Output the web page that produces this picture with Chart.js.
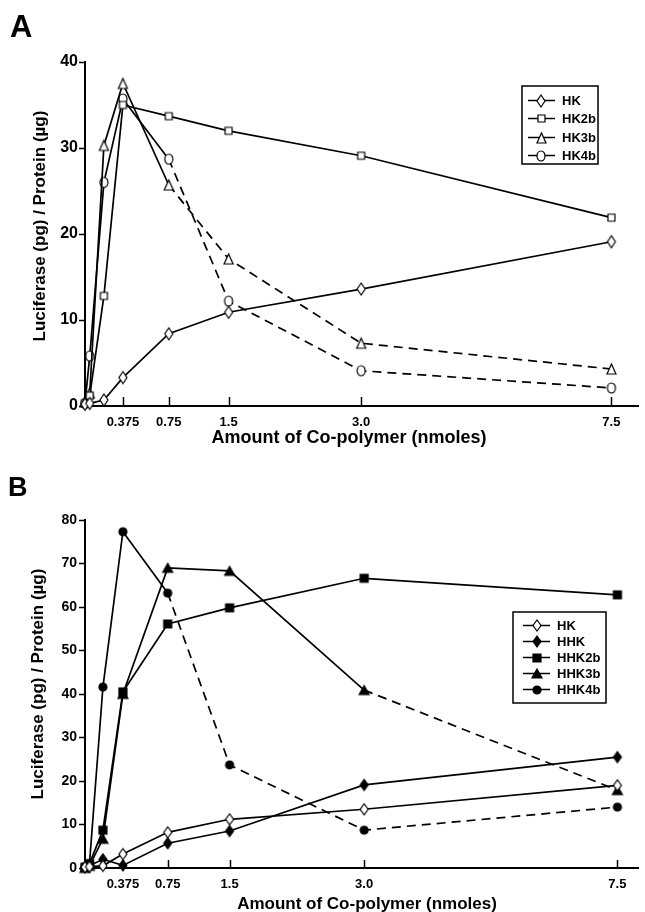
<!DOCTYPE html>
<html><head><meta charset="utf-8">
<script src="https://cdn.jsdelivr.net/npm/chart.js@4/dist/chart.umd.min.js"></script>
<style>
html,body{margin:0;padding:0;background:#fff;}
#wrap{position:relative;width:645px;height:912px;overflow:hidden;font-family:'Liberation Sans',Arial,Helvetica,sans-serif;font-weight:bold;color:#000;}
.panel{position:absolute;left:0;width:645px;height:456px;}
#pA{top:0}
#pB{top:456px}
.t{position:absolute;white-space:nowrap;line-height:1;}
.c{transform:translate(-50%,-50%);}
.r{transform:translate(-50%,-50%) rotate(-90deg);}
</style></head>
<body><div id="wrap">
<div class="panel" id="pA"><canvas id="chartA" width="645" height="456"></canvas></div>
<div class="panel" id="pB"><canvas id="chartB" width="645" height="456"></canvas></div>
<div class="t" style="left:10px;top:11px;font-size:31px;">A</div>
<div class="t" style="left:8px;top:474px;font-size:27px;">B</div>
<div class="t r" style="left:39px;top:226px;font-size:17px;">Luciferase (pg) / Protein (µg)</div>
<div class="t c" style="left:349px;top:437px;font-size:18px;">Amount of Co-polymer (nmoles)</div>
<div class="t r" style="left:37px;top:684px;font-size:17px;">Luciferase (pg) / Protein (µg)</div>
<div class="t c" style="left:367px;top:903px;font-size:17px;">Amount of Co-polymer (nmoles)</div>
</div>
<script>
// ---------------- data ----------------
const doses = [0, 0.047, 0.1875, 0.375, 0.75, 1.5, 3.0, 7.5];
const xTickValues = [0.375, 0.75, 1.5, 3.0, 7.5];
const xTickLabels = ['0.375', '0.75', '1.5', '3.0', '7.5'];
const yTicksA = [0, 10, 20, 30, 40];
const yTicksB = [0, 10, 20, 30, 40, 50, 60, 70, 80];

// Panel A
const labelsA = ['HK', 'HK2b', 'HK3b', 'HK4b'];
const hkA   = [0.2, 0.3, 0.7, 3.3, 8.4, 10.9, 13.6, 19.1];
const hk2bA = [0.3, 1.2, 12.8, 35.0, 33.7, 32.0, 29.1, 21.9];
const hk3bA = [0.5, 1.5, 30.3, 37.5, 25.7, 17.1, 7.3, 4.3];
const hk4bA = [0.3, 5.8, 26.0, 35.7, 28.7, 12.2, 4.1, 2.1];

// Panel B
const labelsB = ['HK', 'HHK', 'HHK2b', 'HHK3b', 'HHK4b'];
const hkB    = [0.2, 0.3, 0.5, 3.2, 8.2, 11.2, 13.5, 19.0];
const hhkB   = [0.2, 0.5, 2.0, 0.6, 5.7, 8.5, 19.1, 25.5];
const hhk2bB = [0.2, 1.0, 8.7, 40.5, 56.1, 59.8, 66.6, 62.8];
const hhk3bB = [0.0, 0.5, 6.7, 40.0, 69.0, 68.3, 40.9, 17.9];
const hhk4bB = [0.3, 1.0, 41.6, 77.3, 63.2, 23.7, 8.7, 14.0];

// ---------------- axis layout (non-uniform dose axis) ----------------
const axisBreaks = {
  chartA: { values: [0, 0.1875, 0.375, 0.75, 1.5, 3.0, 7.5, 8.0],
            fracs:  [0, 0.0342, 0.0685, 0.1514, 0.2595, 0.4991, 0.9514, 1] },
  chartB: { values: [0, 0.1875, 0.375, 0.75, 1.5, 3.0, 7.5, 8.0],
            fracs:  [0, 0.0324, 0.0685, 0.1495, 0.2613, 0.5045, 0.9622, 1] }
};

class PiecewiseScale extends Chart.LinearScale {
  _brk() { return axisBreaks[this.chart.canvas.id]; }
  getPixelForValue(value) {
    if (value === null || value === undefined || isNaN(value)) return NaN;
    const { values: v, fracs: f } = this._brk();
    let i = 0;
    while (i < v.length - 2 && value > v[i + 1]) i++;
    const t = (value - v[i]) / (v[i + 1] - v[i]);
    return this.getPixelForDecimal(f[i] + t * (f[i + 1] - f[i]));
  }
  getValueForPixel(pixel) {
    const d = this.getDecimalForPixel(pixel);
    const { values: v, fracs: f } = this._brk();
    let i = 0;
    while (i < f.length - 2 && d > f[i + 1]) i++;
    const t = (d - f[i]) / (f[i + 1] - f[i]);
    return v[i] + t * (v[i + 1] - v[i]);
  }
}
PiecewiseScale.id = 'piecewise';
PiecewiseScale.defaults = Chart.LinearScale.defaults;
Chart.register(PiecewiseScale);

const FONT = "'Liberation Sans', Arial, Helvetica, sans-serif";
Chart.defaults.color = '#000';
Chart.defaults.font.family = FONT;

// marker sprites
function marker(shape, filled, w, h, lw) {
  const pad = 2;
  const c = document.createElement('canvas');
  c.width = Math.ceil(w + pad * 2); c.height = Math.ceil(h + pad * 2);
  const g = c.getContext('2d');
  g.translate(c.width / 2, c.height / 2);
  g.beginPath();
  if (shape === 'diamond') { g.moveTo(0, -h / 2); g.lineTo(w / 2, 0); g.lineTo(0, h / 2); g.lineTo(-w / 2, 0); g.closePath(); }
  else if (shape === 'square') { g.rect(-w / 2, -h / 2, w, h); }
  else if (shape === 'triangle') { g.moveTo(0, -h / 2); g.lineTo(w / 2, h / 2); g.lineTo(-w / 2, h / 2); g.closePath(); }
  else { g.ellipse(0, 0, w / 2, h / 2, 0, 0, Math.PI * 2); }
  g.fillStyle = filled ? '#000' : '#fff'; g.fill();
  g.lineWidth = lw; g.strokeStyle = '#000'; g.stroke();
  return c;
}

const innerTicks = {
  id: 'innerTicks',
  afterDraw(chart, args, o) {
    const xs = chart.scales.x, ctx = chart.ctx;
    ctx.save(); ctx.strokeStyle = '#000'; ctx.lineWidth = 1.5;
    xs.ticks.forEach(t => {
      const px = Math.round(xs.getPixelForValue(t.value)) + 0.5;
      ctx.beginPath(); ctx.moveTo(px, xs.top); ctx.lineTo(px, xs.top - o.length); ctx.stroke();
    });
    ctx.restore();
  }
};

const boxLegend = {
  id: 'boxLegend',
  afterDraw(chart, args, o) {
    const ctx = chart.ctx;
    ctx.save();
    ctx.fillStyle = '#fff'; ctx.fillRect(o.x, o.y, o.w, o.h);
    ctx.strokeStyle = '#000'; ctx.lineWidth = 1.5; ctx.strokeRect(o.x, o.y, o.w, o.h);
    ctx.font = 'bold ' + o.fontSize + 'px ' + FONT;
    ctx.textBaseline = 'middle'; ctx.fillStyle = '#000';
    chart.data.datasets.forEach((ds, i) => {
      const cy = Math.round(o.y + o.first + i * o.gap) + 0.5;
      ctx.lineWidth = 1.5; ctx.beginPath();
      ctx.moveTo(o.x + o.l0, cy); ctx.lineTo(o.x + o.l1, cy); ctx.stroke();
      const img = ds.pointStyle;
      ctx.drawImage(img, Math.round(o.x + o.m - img.width / 2), Math.round(cy - img.height / 2));
      ctx.fillText(ds.label, o.x + o.tx, cy + 0.5);
    });
    ctx.restore();
  }
};

function makeDataset(label, vals, sprite, dashFrom) {
  return {
    label,
    data: doses.map((x, i) => ({ x, y: vals[i] })),
    borderColor: '#000', backgroundColor: '#000', borderWidth: 1.7,
    pointStyle: sprite, pointRadius: 5, pointHoverRadius: 5,
    tension: 0, fill: false, clip: false,
    segment: { borderDash: ctx => (dashFrom !== null && ctx.p0DataIndex >= dashFrom) ? [9, 6] : undefined }
  };
}

function makeChart(id, datasets, yMax, yTicks, yFont, yPad, xHeight, topPad, legendOpts, tickLen) {
  return new Chart(document.getElementById(id), {
    type: 'line',
    data: { datasets },
    options: {
      responsive: false, animation: false, devicePixelRatio: 1,
      layout: { padding: { top: topPad, right: 5, bottom: 0, left: 0 } },
      plugins: { legend: { display: false }, tooltip: { enabled: false }, innerTicks: { length: tickLen }, boxLegend: legendOpts },
      scales: {
        x: {
          type: 'piecewise', min: 0, max: 8,
          afterBuildTicks: s => { s.ticks = xTickValues.map(v => ({ value: v })); },
          ticks: { font: { size: 13, weight: 'bold' }, color: '#000', padding: 9, maxRotation: 0, autoSkip: false,
                   callback: (v, i) => xTickLabels[i] },
          grid: { display: false, drawTicks: false },
          border: { display: true, color: '#000', width: 2 },
          afterFit: s => { s.height = xHeight; }
        },
        y: {
          type: 'linear', min: 0, max: yMax,
          afterBuildTicks: s => { s.ticks = yTicks.map(v => ({ value: v })); },
          ticks: { font: { size: yFont, weight: 'bold' }, color: '#000', padding: yPad },
          grid: { display: true, drawOnChartArea: false, drawTicks: true, tickLength: 6, tickColor: '#000', tickWidth: 1.5, color: '#000' },
          border: { display: true, color: '#000', width: 2 },
          afterFit: s => { s.width = 85; }
        }
      }
    },
    plugins: [innerTicks, boxLegend]
  });
}

const dsA = [
  makeDataset(labelsA[0], hkA,   marker('diamond', false, 8, 12, 1.2), null),
  makeDataset(labelsA[1], hk2bA, marker('square', false, 7, 7, 1.2), null),
  makeDataset(labelsA[2], hk3bA, marker('triangle', false, 9, 10, 1.2), 4),
  makeDataset(labelsA[3], hk4bA, marker('circle', false, 8, 10, 1.2), 4)
];
makeChart('chartA', dsA, 40, yTicksA, 16, 1, 50, 62,
  { x: 522, y: 86, w: 76, h: 78, first: 13.5, gap: 18.5, l0: 6, l1: 33, m: 19, tx: 40, fontSize: 13 }, 9);

const dsB = [
  makeDataset(labelsB[0], hkB,    marker('diamond', false, 8, 11, 1.2), null),
  makeDataset(labelsB[1], hhkB,   marker('diamond', true, 8, 11, 1.2), null),
  makeDataset(labelsB[2], hhk2bB, marker('square', true, 8, 8, 1.2), null),
  makeDataset(labelsB[3], hhk3bB, marker('triangle', true, 10, 9, 1.2), 6),
  makeDataset(labelsB[4], hhk4bB, marker('circle', true, 8, 8, 1.2), 4)
];
makeChart('chartB', dsB, 80, yTicksB, 14, 2, 44, 64,
  { x: 513, y: 156, w: 93, h: 91, first: 13, gap: 16, l0: 10, l1: 37, m: 23.5, tx: 44, fontSize: 13 }, 8);
</script>
</body></html>
